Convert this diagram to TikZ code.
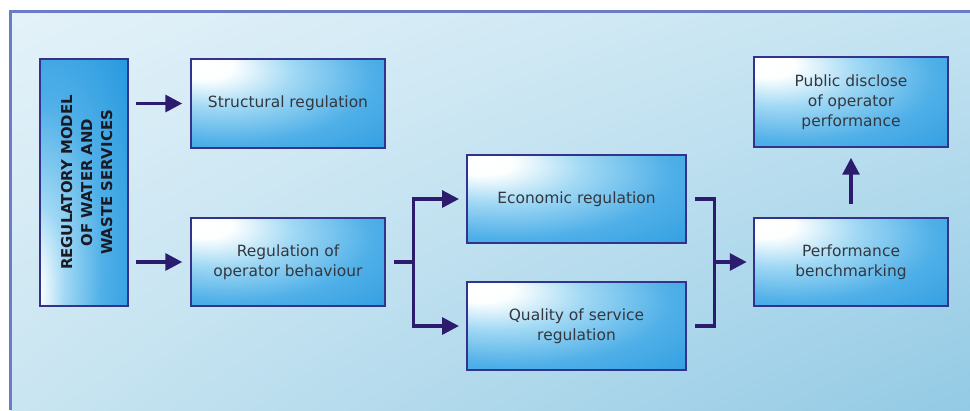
\documentclass[tikz,border=0pt]{standalone}
\usepackage{fontspec}
\setmainfont{DejaVu Sans}
\usepackage{graphicx}
\usetikzlibrary{positioning, arrows.meta, shadings}

\definecolor{bgA}{HTML}{E4F2F9}
\definecolor{bgB}{HTML}{C4E3F1}
\definecolor{bgC}{HTML}{C9E5F1}
\definecolor{bgD}{HTML}{93CAE5}
\definecolor{framecol}{HTML}{6B7BC6}
\definecolor{boxline}{HTML}{34338C}
\definecolor{arrowcol}{HTML}{2C1C6E}
\definecolor{textgrey}{HTML}{33373F}
\definecolor{modeltext}{HTML}{1A1A24}

% glow of the boxes, bright spot up left
\pgfdeclareradialshading{boxglow}{\pgfpoint{-23bp}{22bp}}{%
  color(0bp)=(white); color(7bp)=(white!95!cyan!20); color(20bp)=(rgb,255:red,160;green,216;blue,244);
  color(36bp)=(rgb,255:red,80;green,176;blue,232); color(60bp)=(rgb,255:red,34;green,150;blue,222);
  color(100bp)=(rgb,255:red,6;green,128;blue,208)}
% model box, bright spot low left
\pgfdeclareradialshading{modelglow}{\pgfpoint{-32bp}{-24bp}}{%
  color(0bp)=(white); color(5bp)=(white!95!cyan!20); color(16bp)=(rgb,255:red,160;green,216;blue,244);
  color(32bp)=(rgb,255:red,80;green,176;blue,232); color(56bp)=(rgb,255:red,34;green,150;blue,222);
  color(100bp)=(rgb,255:red,6;green,128;blue,208)}

\tikzset{
  regbox/.style={draw=boxline, line width=1.4pt, shade, shading=boxglow,
    minimum width=4.85cm, minimum height=2.2cm, align=center, text=textgrey,
    font=\fontsize{11}{14.2}\selectfont, inner sep=2pt},
  flow/.style={draw=arrowcol, line width=2.4pt, -{Triangle[length=12pt,width=12pt]}},
  bar/.style={draw=arrowcol, line width=2.4pt}
}

\begin{document}
\begin{tikzpicture}[x=0.025cm, y=-0.025cm]
  \useasboundingbox (0,0) rectangle (970,410);
  % background panel
  \fill[white] (0,0) rectangle (970,410);
  \shade[upper left=bgA, upper right=bgB, lower left=bgC, lower right=bgD] (10,11) rectangle (970,410);
  \draw[framecol, line width=2.1pt] (10.5,410) -- (10.5,11.5) -- (970,11.5);

  % boxes
  \node[regbox, shading=modelglow, minimum width=2.2cm, minimum height=6.175cm, text=modeltext,
    font=\fontsize{10.6}{14.2}\selectfont\bfseries] (model) at (84,182.5)
    {\hspace*{6pt}\rotatebox{90}{\begin{tabular}{@{}c@{}}REGULATORY MODEL\\OF WATER AND\\WASTE SERVICES\end{tabular}}};
  \node[regbox, minimum height=2.225cm] (struct) at (288,103.5) {Structural regulation};
  \node[regbox] (behav) at (288,262) {Regulation of\\operator behaviour};
  \node[regbox, minimum width=5.475cm] (econ) at (576.5,199) {Economic regulation};
  \node[regbox, minimum width=5.475cm] (quality) at (576.5,326) {Quality of service\\regulation};
  \node[regbox, minimum height=2.25cm] (public) at (851,102) {Public disclose\\of operator\\performance};
  \node[regbox] (bench) at (851,262) {Performance\\benchmarking};

  % model to its two branches
  \draw[flow, shorten <=5pt, shorten >=5.5pt] (model.east |- struct.west) -- (struct.west);
  \draw[flow, shorten <=5pt, shorten >=5.5pt] (model.east |- behav.west) -- (behav.west);

  % split into economic and quality
  \coordinate[right=0.68cm of behav.east] (split);
  \draw[bar, shorten <=5.5pt] (behav.east) -- (split);
  \draw[flow, shorten >=5pt] (split) |- (econ.west);
  \draw[flow, shorten >=5pt] (split) |- (quality.west);

  % merge into benchmarking
  \coordinate[right=0.68cm of econ.east] (mtop);
  \coordinate (mbot) at (mtop |- quality.east);
  \draw[bar, shorten <=5.5pt, shorten >=5.5pt] (econ.east) -- (mtop) -- (mbot) -- (quality.east);
  \draw[flow, shorten >=4.5pt] (mtop |- bench.west) -- (bench.west);

  % benchmarking up to disclosure
  \draw[flow, shorten <=9pt, shorten >=7pt] (bench.north) -- (public.south);
\end{tikzpicture}
\end{document}
